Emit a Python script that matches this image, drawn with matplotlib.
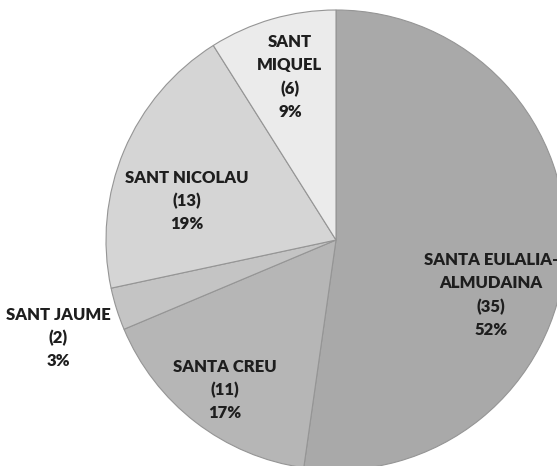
import matplotlib.pyplot as plt

# parishes, clockwise from 12 o'clock
parishes = ['SANTA EULALIA-\nALMUDAINA', 'SANTA CREU', 'SANT JAUME', 'SANT NICOLAU', 'SANT\nMIQUEL']
counts = [35, 11, 2, 13, 6]
percents = ['52%', '17%', '3%', '19%', '9%']

colors = ['#a9a9a9', '#b6b6b6', '#c4c4c4', '#d5d5d5', '#ebebeb']
# label centres in pixels (x, y from top)
label_pos = [(491, 295), (225, 390), (58, 338), (187, 201), (290, 77)]

W, H = 557, 466
fig = plt.figure(figsize=(W / 100, H / 100), dpi=100)
ax = fig.add_axes([0, 0, 1, 1])

ax.pie(counts, colors=colors, startangle=90, counterclock=False,
       center=(336, H - 240), radius=230, frame=True,
       wedgeprops=dict(edgecolor='#959595', linewidth=0.8))

for name, n, pct, (x, y) in zip(parishes, counts, percents, label_pos):
    ax.text(x, H - y, f'{name}\n({n})\n{pct}', ha='center', va='center',
            fontsize=12, fontweight='heavy', family=['Lato', 'DejaVu Sans'],
            color='#1e1e1e', linespacing=1.55)

ax.set_xlim(0, W)
ax.set_ylim(0, H)
ax.set_aspect('auto')
ax.axis('off')

fig.savefig('out.png', dpi=100, facecolor='white')
